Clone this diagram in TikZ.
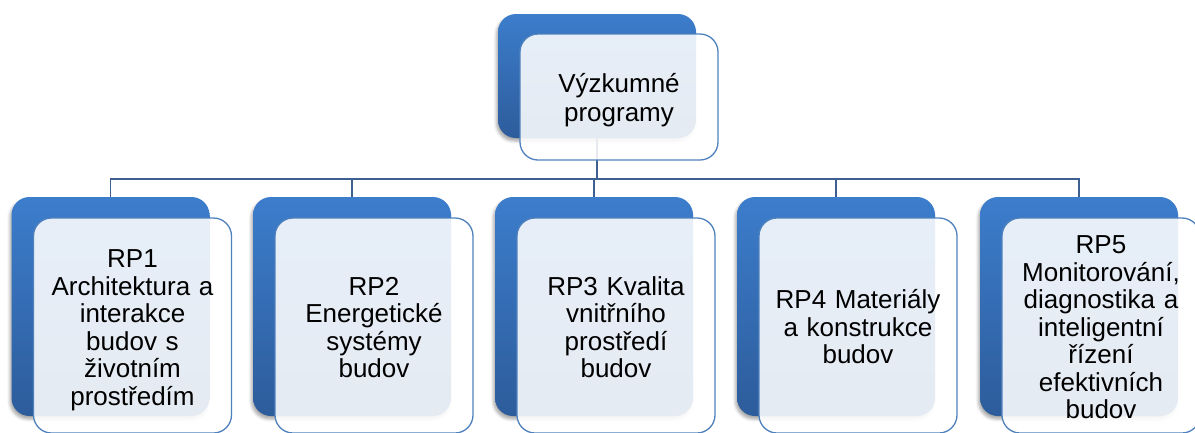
\documentclass[tikz,border=0pt]{standalone}
\usepackage{fontspec}
\setmainfont{Liberation Sans}
\usetikzlibrary{shadows.blur}
\definecolor{backtop}{HTML}{3C7DCC}
\definecolor{backbot}{HTML}{2D5C9B}
\definecolor{frameblue}{HTML}{4F81BD}
\definecolor{linkblue}{HTML}{3E6090}
\tikzset{
  backbox/.style={rectangle, rounded corners=18pt, draw=none,
    top color=backtop, bottom color=backbot,
    blur shadow={shadow xshift=-1.5pt, shadow yshift=-3pt,
      shadow blur radius=3pt, shadow opacity=35},
    minimum width=198pt, inner sep=0pt},
  frontbox/.style={rectangle, rounded corners=18pt, fill=white,
    fill opacity=0.88, draw=frameblue, line width=1.3pt,
    minimum width=198pt, inner sep=0pt},
  boxtext/.style={anchor=base, text width=200pt, align=center,
    inner sep=0pt, text=black, font=\fontsize{26}{27.5}\selectfont},
  toptext/.style={boxtext, font=\fontsize{26}{29}\selectfont},
  link/.style={draw=linkblue, line width=1.4pt}
}
\begin{document}
\begin{tikzpicture}[x=1pt, y=-1pt]
  \useasboundingbox (0,0) rectangle (1195,432);
  \clip (0,0) rectangle (1195,432);

  % coloured back plates
  \node[backbox, minimum height=124pt] (top) at (597,76) {};
  \node[backbox, minimum height=219pt] (rp1) at (110.5,306.5) {};
  \node[backbox, minimum height=219pt] (rp2) at (352,306.5) {};
  \node[backbox, minimum height=219pt] (rp3) at (594,306.5) {};
  \node[backbox, minimum height=219pt] (rp4) at (836,306.5) {};
  \node[backbox, minimum height=219pt] (rp5) at (1079,306.5) {};

  % tree connectors
  \coordinate (bus) at (0,179);
  \foreach \child in {rp1,rp2,rp3,rp4,rp5}
    \draw[link] (top.south) -- (top.south |- bus) -| (\child.north);

  % light front cards
  \node[frontbox, minimum height=126pt] (topf) at (619,97) {};
  \node[frontbox, minimum height=215pt] (rp1f) at (132.5,325.5) {};
  \node[frontbox, minimum height=215pt] (rp2f) at (374,325.5) {};
  \node[frontbox, minimum height=215pt] (rp3f) at (616,325.5) {};
  \node[frontbox, minimum height=215pt] (rp4f) at (858,325.5) {};
  \node[frontbox, minimum height=215pt] (rp5f) at (1101,325.5) {};

  % card texts
  \node[toptext] (topt) at (619,92.8) {Výzkumné\\programy};
  \node[boxtext] (rp1t) at (132.5,267.5)
    {RP1\\Architektura a\\interakce\\budov s\\životním\\prostředím};
  \node[boxtext] (rp2t) at (374,295)
    {RP2\\Energetické\\systémy\\budov};
  \node[boxtext] (rp3t) at (616,295)
    {RP3 Kvalita\\vnitřního\\prostředí\\budov};
  \node[boxtext] (rp4t) at (858,308.8)
    {RP4 Materiály\\a konstrukce\\budov};
  \node[boxtext] (rp5t) at (1101,253.8)
    {RP5\\Monitorování,\\diagnostika a\\inteligentní\\řízení\\efektivních\\budov};
\end{tikzpicture}
\end{document}
